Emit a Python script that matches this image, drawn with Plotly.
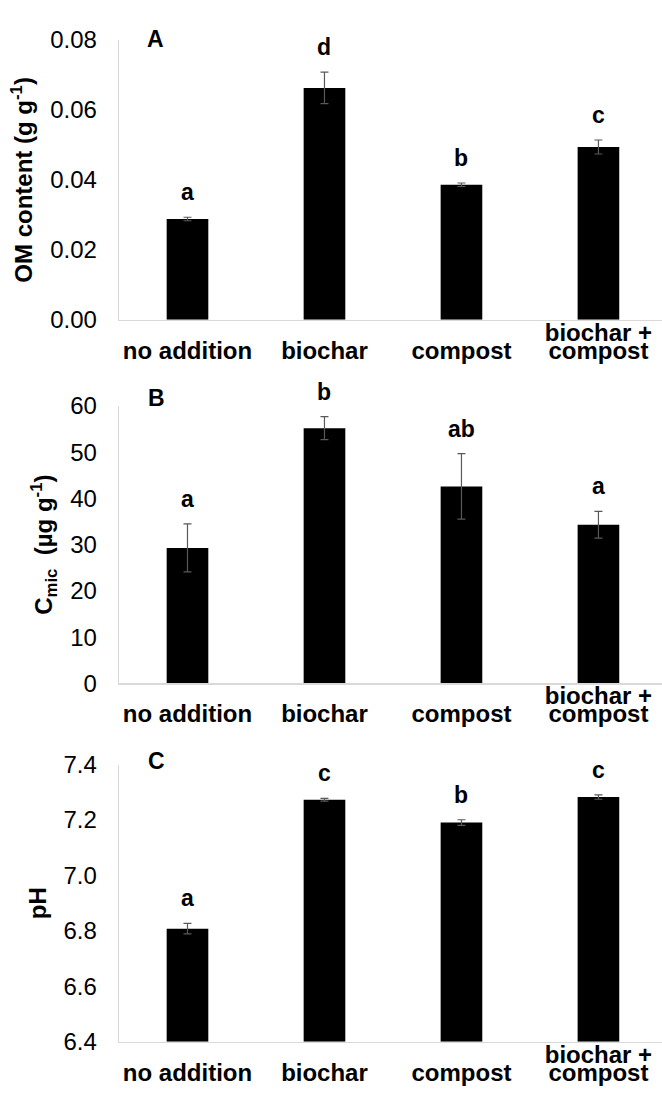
import plotly.graph_objects as go

# ---------------- data ----------------
categories = ["no addition", "biochar", "compost", "biochar +\ncompost"]

om_content = [0.0288, 0.0663, 0.0386, 0.0494]
om_err = [0.0005, 0.0045, 0.0005, 0.0020]
om_letters = ["a", "d", "b", "c"]

cmic = [29.3, 55.2, 42.6, 34.3]
cmic_err = [5.2, 2.5, 7.1, 2.9]
cmic_letters = ["a", "b", "ab", "a"]

ph = [6.808, 7.273, 7.191, 7.283]
ph_err = [0.019, 0.005, 0.010, 0.008]
ph_letters = ["a", "c", "b", "c"]

panel_labels = ["A", "B", "C"]
y_titles = ["OM content (g g<sup>-1</sup>)", "C<sub>mic</sub>  (µg g<sup>-1</sup>)", "pH"]
y_ranges = [[0, 0.08], [0, 60], [6.4, 7.4]]
y_dticks = [0.02, 10, 0.2]
y_formats = [".2f", "d", ".1f"]

# ---------------- layout constants ----------------
W, H = 662, 1112
ML = 119
FONT = "Liberation Sans, Arial, sans-serif"
# top / bottom pixel rows of each plot area
panel_px = [(26.7, 313.3), (401.7, 686.0), (769.3, 1053.3)]
label_px = [(155, 25.5), (156, 393.5), (156, 766)]

values = [om_content, cmic, ph]
errors = [om_err, cmic_err, ph_err]
letters = [om_letters, cmic_letters, ph_letters]

xpos = list(range(len(categories)))
single = [i for i, c in enumerate(categories) if "\n" not in c]
multi = [i for i, c in enumerate(categories) if "\n" in c]

fig = go.Figure()
layout = dict(
    width=W, height=H,
    margin=dict(l=ML, r=0, t=0, b=0),
    plot_bgcolor="white", paper_bgcolor="white",
    showlegend=False,
    font=dict(family=FONT, color="black", size=24),
    bargap=0.696,
)
annotations = []

for p in range(3):
    xi = p + 1
    xname = "x" if xi == 1 else f"x{xi}"
    yname = "y" if xi == 1 else f"y{xi}"
    top, bot = panel_px[p]
    dom = [1 - bot / H, 1 - top / H]
    base = y_ranges[p][0]

    fig.add_trace(go.Bar(
        x=xpos, y=[v - base for v in values[p]], base=base,
        xaxis=xname, yaxis=yname,
        marker=dict(color="black", line=dict(width=0)),
        error_y=dict(type="data", array=errors[p], visible=True,
                     color="#595959", thickness=1.2, width=4),
        hoverinfo="skip",
    ))

    layout["xaxis" + ("" if xi == 1 else str(xi))] = dict(
        domain=[0, 1], anchor=yname, range=[-0.5, 3.464],
        tickmode="array", tickvals=[xpos[i] for i in single],
        ticktext=[categories[i] for i in single],
        showline=True, linecolor="#d9d9d9", linewidth=1.3,
        showgrid=False, zeroline=False, ticks="",
        tickfont=dict(family=FONT, size=24, color="black", weight="bold"),
        ticklabelstandoff=9,
    )
    layout["yaxis" + ("" if xi == 1 else str(xi))] = dict(
        domain=dom, anchor=xname, range=y_ranges[p], dtick=y_dticks[p],
        tick0=y_ranges[p][0], tickformat=y_formats[p],
        showline=True, linecolor="#d9d9d9", linewidth=1.3,
        showgrid=False, zeroline=False, ticks="",
        tickfont=dict(family=FONT, size=24, color="black"),
        ticklabelstandoff=16,
        title=dict(text=y_titles[p], font=dict(family=FONT, size=24, weight="bold"),
                   standoff=10),
    )

    # overlay axes carrying the two lines of multi-line category labels
    for line in range(2):
        oi = 4 + 2 * p + line
        oname = f"x{oi}"
        layout[f"xaxis{oi}"] = dict(
            overlaying=xname, anchor=yname, range=[-0.5, 3.464],
            tickmode="array", tickvals=[xpos[i] for i in multi],
            ticktext=[categories[i].split("\n")[line] for i in multi],
            showline=False, showgrid=False, zeroline=False, ticks="",
            tickfont=dict(family=FONT, size=24, color="black", weight="bold"),
            ticklabelstandoff=-4 if line == 0 else 14,
        )
        fig.add_trace(go.Scatter(x=[xpos[i] for i in multi], y=[None] * len(multi),
                                 xaxis=oname, yaxis=yname, mode="markers",
                                 showlegend=False, hoverinfo="skip"))

    # significance letters
    for i in xpos:
        annotations.append(dict(
            x=xpos[i], y=values[p][i] + errors[p][i], xref=xname, yref=yname,
            text=letters[p][i], showarrow=False, yanchor="middle", yshift=25,
            font=dict(family=FONT, size=23, color="black", weight="bold"),
        ))
    # panel label
    lx, ly = label_px[p]
    annotations.append(dict(
        x=(lx - ML) / (W - ML), y=1 - ly / H, xref="paper", yref="paper",
        text=panel_labels[p], showarrow=False, xanchor="center", yanchor="middle",
        font=dict(family=FONT, size=23, color="black", weight="bold"),
    ))

layout["annotations"] = annotations
fig.update_layout(**layout)
fig.write_html("out.html",
               config={"displayModeBar": False, "staticPlot": True},
               post_script="document.body.style.margin='0';document.body.style.overflow='hidden';")
